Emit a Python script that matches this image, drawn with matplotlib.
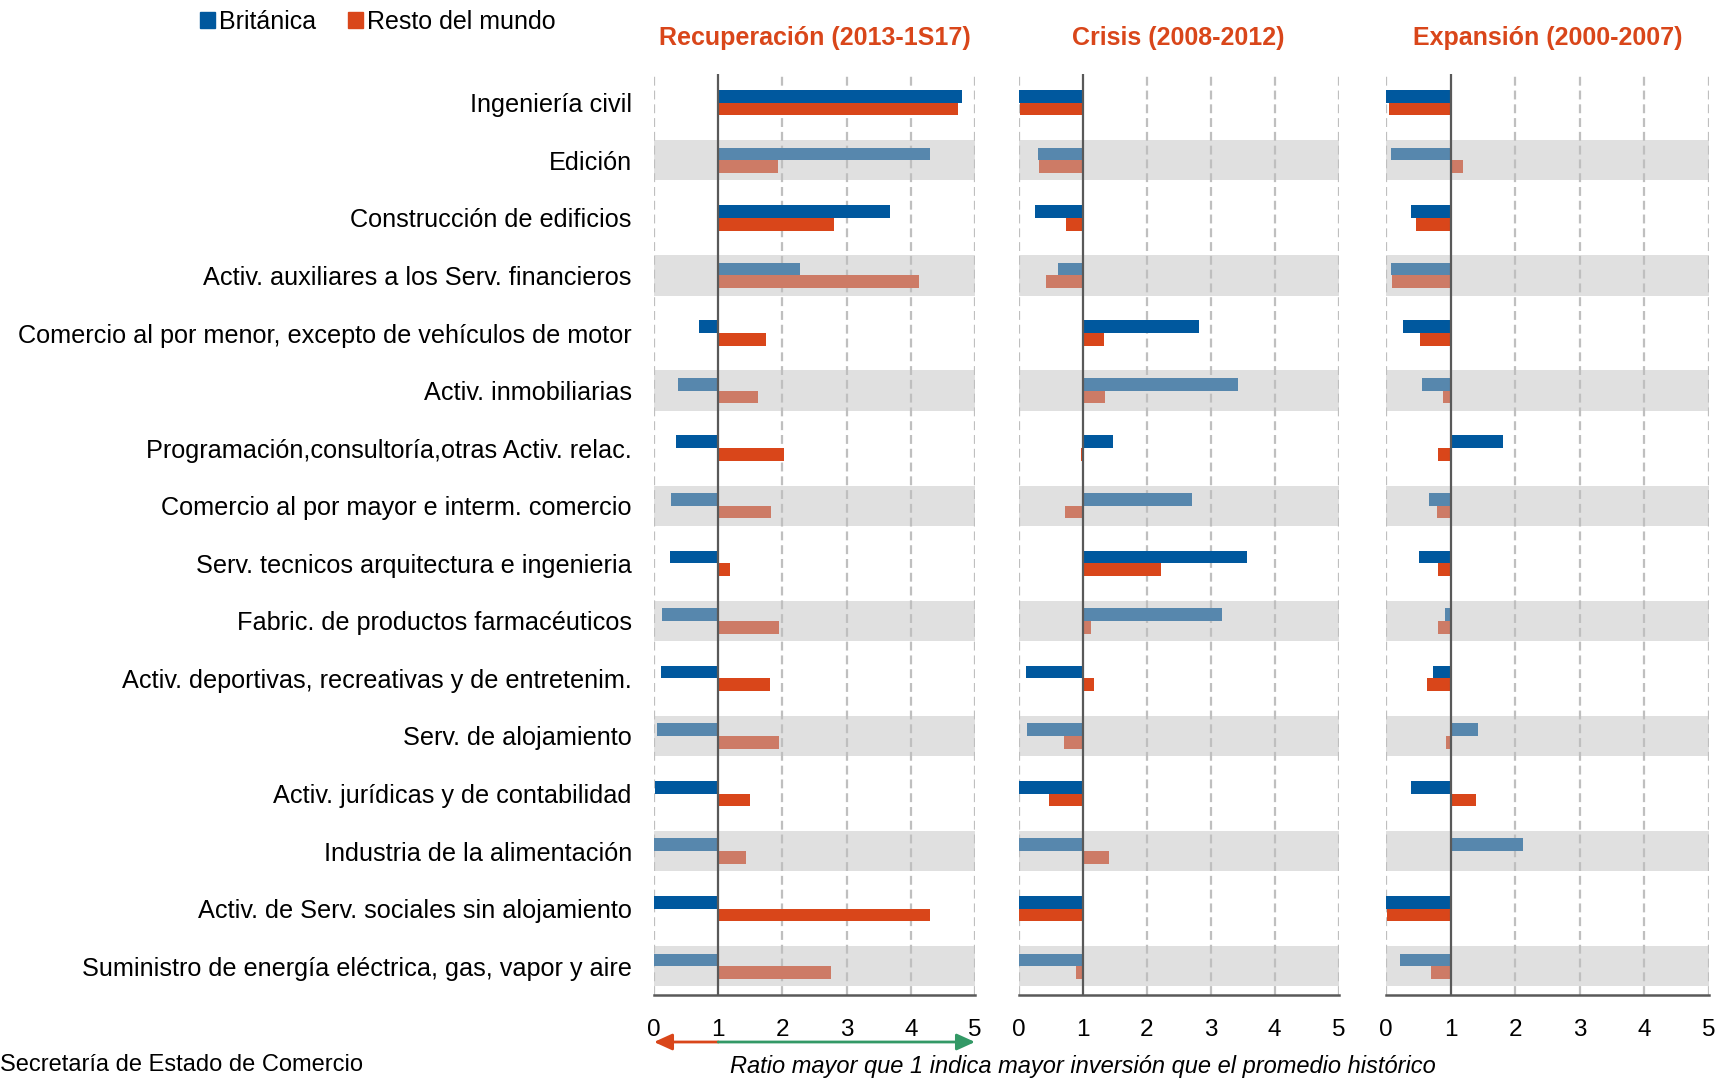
import numpy as np
import matplotlib
matplotlib.use("Agg")
import matplotlib.pyplot as plt
from matplotlib.patches import Patch

plt.rcParams['font.family'] = ['Liberation Sans', 'DejaVu Sans']

sectores = [
    "Ingeniería civil",
    "Edición",
    "Construcción de edificios",
    "Activ. auxiliares a los Serv. financieros",
    "Comercio al por menor, excepto de vehículos de motor",
    "Activ. inmobiliarias",
    "Programación,consultoría,otras Activ. relac.",
    "Comercio al por mayor e interm. comercio",
    "Serv. tecnicos arquitectura e ingenieria",
    "Fabric. de productos farmacéuticos",
    "Activ. deportivas, recreativas y de entretenim.",
    "Serv. de alojamiento",
    "Activ. jurídicas y de contabilidad",
    "Industria de la alimentación",
    "Activ. de Serv. sociales sin alojamiento",
    "Suministro de energía eléctrica, gas, vapor y aire",
]

periodos = ["Recuperación (2013-1S17)", "Crisis (2008-2012)", "Expansión (2000-2007)"]

# ratio sobre el promedio histórico
recup_brit = [4.79, 4.30, 3.67, 2.28, 0.70, 0.37, 0.34, 0.26, 0.25, 0.12, 0.11, 0.04, 0.01, 0.0, 0.0, 0.0]
recup_resto = [4.73, 1.93, 2.81, 4.12, 1.75, 1.62, 2.02, 1.82, 1.18, 1.94, 1.80, 1.94, 1.50, 1.44, 4.30, 2.75]

crisis_brit = [0.0, 0.30, 0.26, 0.61, 2.82, 3.42, 1.47, 2.71, 3.56, 3.18, 0.12, 0.13, 0.0, 0.0, 0.0, 0.0]
crisis_resto = [0.02, 0.32, 0.74, 0.43, 1.33, 1.35, 0.97, 0.72, 2.23, 1.13, 1.18, 0.70, 0.47, 1.41, 0.0, 0.90]

expan_brit = [0.0, 0.08, 0.38, 0.08, 0.27, 0.56, 1.81, 0.66, 0.51, 0.91, 0.73, 1.42, 0.39, 2.13, 0.0, 0.22]
expan_resto = [0.05, 1.19, 0.46, 0.09, 0.52, 0.88, 0.81, 0.79, 0.81, 0.80, 0.64, 0.93, 1.39, 1.0, 0.02, 0.70]

series = [(recup_brit, recup_resto), (crisis_brit, crisis_resto), (expan_brit, expan_resto)]

azul = "#00589E"
rojo = "#D9461A"
azul_claro = "#5787AD"
rojo_claro = "#CD7B66"
banda = "#E0E0E0"
verde = "#339966"

fig = plt.figure(figsize=(17.18, 10.78), dpi=100)
W, H = 1718, 1078

lefts = [654, 1018.7, 1386]
rights = [975, 1338.7, 1708.7]
top, bottom = 74, 995

n = len(sectores)
y = np.arange(n)
h = 0.22

axes = []
for k in range(3):
    ax = fig.add_axes([lefts[k] / W, 1 - bottom / H, (rights[k] - lefts[k]) / W, (bottom - top) / H])
    axes.append(ax)
    brit, resto = series[k]

    # bandas grises en filas alternas
    for i in range(1, n, 2):
        ax.axhspan(i - 0.35, i + 0.35, color=banda, zorder=0, lw=0)

    for gx in [0, 2, 3, 4, 5]:
        ax.axvline(gx, color="#BFBFBF", lw=1.6, ls=(0, (4, 2.2)), zorder=1)

    for i in range(n):
        cb = azul if i % 2 == 0 else azul_claro
        cr = rojo if i % 2 == 0 else rojo_claro
        ax.barh(i - h / 2, brit[i] - 1, left=1, height=h, color=cb, zorder=2)
        ax.barh(i + h / 2, resto[i] - 1, left=1, height=h, color=cr, zorder=2)

    ax.axvline(1, color="#595959", lw=1.6, zorder=3)

    ax.set_xlim(0, 5)
    ax.set_ylim(n - 0.5, -0.5)
    ax.set_xticks(range(6))
    ax.tick_params(axis="x", length=0, pad=17, labelsize=17.5)
    for s in ["top", "right", "left"]:
        ax.spines[s].set_visible(False)
    ax.spines["bottom"].set_color("#595959")
    ax.spines["bottom"].set_linewidth(1.8)

    if k == 0:
        ax.set_yticks(y)
        ax.set_yticklabels(sectores, fontsize=18.2)
        ax.tick_params(axis="y", length=0, pad=16)
    else:
        ax.set_yticks([])

    fig.text((lefts[k] + rights[k]) / 2 / W, 1 - 38 / H, periodos[k], ha="center", va="center",
             fontsize=18, fontweight="bold", color=rojo)

# flechas bajo el primer panel
ax0 = axes[0]
tr = ax0.get_xaxis_transform()
ya = -(1042 - bottom) / (bottom - top)
punta = "-|>,head_length=1.1,head_width=0.5"
ax0.annotate("", xy=(0, ya), xytext=(1, ya), xycoords=tr, textcoords=tr,
             arrowprops=dict(arrowstyle=punta, color=rojo, lw=2, shrinkA=0, shrinkB=0))
ax0.annotate("", xy=(5, ya), xytext=(1, ya), xycoords=tr, textcoords=tr,
             arrowprops=dict(arrowstyle=punta, color=verde, lw=2, shrinkA=0, shrinkB=0))

fig.text(1083 / W, 1 - 1066 / H, "Ratio mayor que 1 indica mayor inversión que el promedio histórico",
         ha="center", va="center", fontsize=17, style="italic")
fig.text(0, 1 - 1076 / H, "Secretaría de Estado de Comercio", ha="left", va="bottom", fontsize=17)

handles = [Patch(color=azul, label="Británica"), Patch(color=rojo, label="Resto del mundo")]
fig.legend(handles=handles, loc="center left", bbox_to_anchor=(200 / W, 1 - 22 / H), ncol=2,
           frameon=False, fontsize=18, handlelength=0.6, handleheight=0.6, handletextpad=0.15,
           columnspacing=1.3, borderpad=0, borderaxespad=0)

fig.savefig("out.png", dpi=100)
